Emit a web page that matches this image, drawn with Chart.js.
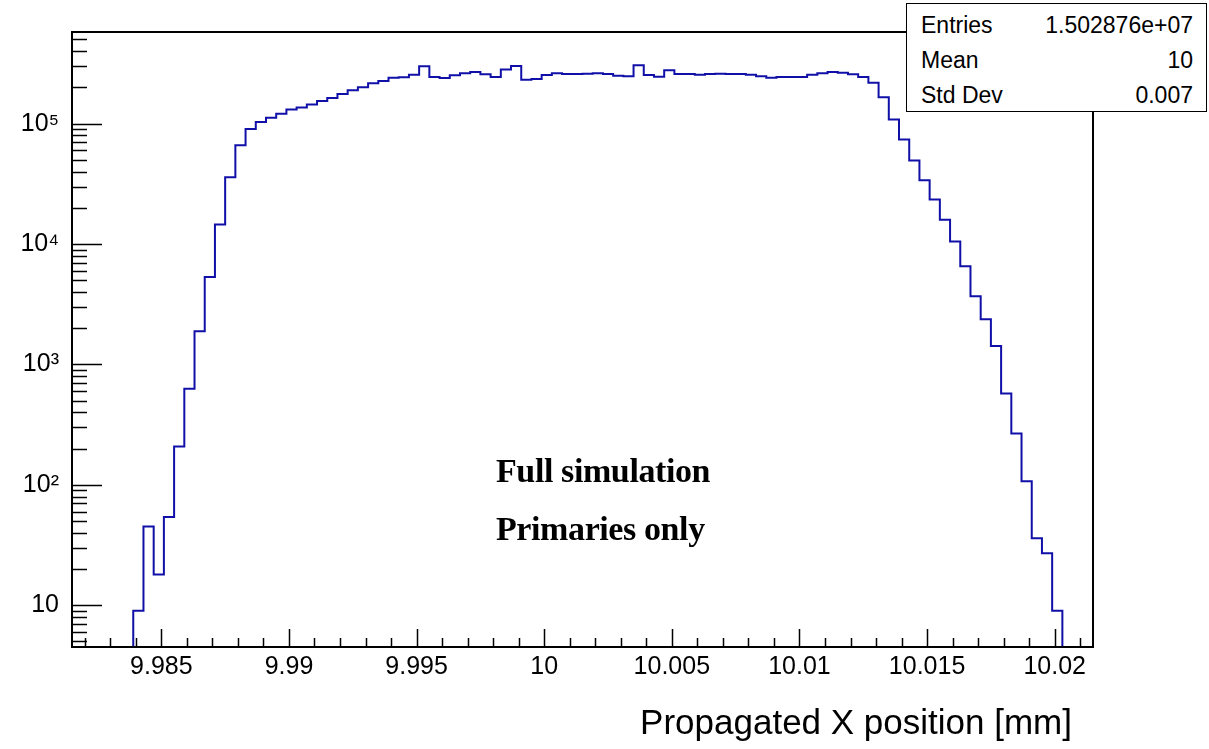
<!DOCTYPE html>
<html>
<head>
<meta charset="utf-8">
<script src="https://cdn.jsdelivr.net/npm/chart.js@4.4.1/dist/chart.umd.min.js"></script>
<style>
  body { margin: 0; background: #fff; }
  #wrap { position: relative; width: 1209px; height: 749px; overflow: hidden; }
  #plot { position: absolute; left: 0; top: 0; }
  .stats {
    position: absolute; left: 906px; top: 3px; width: 299px; height: 107px;
    border: 1.5px solid #000; background: #fff;
    font: 23px "Liberation Sans", Arial, sans-serif; color: #000;
  }
  .stats .row {
    position: absolute; left: 14px; right: 13px; height: 24px; line-height: 24px;
    display: flex; justify-content: space-between;
  }
  .note {
    position: absolute; left: 496px; white-space: nowrap;
    font: bold 34px/34px "Liberation Serif", "Times New Roman", serif;
    letter-spacing: -0.4px; color: #000;
  }
  .xtitle {
    position: absolute; right: 137px; top: 704px; white-space: nowrap;
    font: 35px/35px "Liberation Sans", Arial, sans-serif; color: #000;
  }
</style>
</head>
<body>
<div id="wrap">
  <canvas id="plot" width="1209" height="749"></canvas>
  <div class="stats">
    <div class="row" style="top:9px"><span>Entries</span><span>1.502876e+07</span></div>
    <div class="row" style="top:44px"><span>Mean</span><span>10</span></div>
    <div class="row" style="top:79px"><span>Std Dev</span><span>0.007</span></div>
  </div>
  <div class="note" style="top:454px">Full simulation</div>
  <div class="note" style="top:512px">Primaries only</div>
  <div class="xtitle">Propagated X position [mm]</div>
</div>
<script>
// histogram binning: 100 bins of 0.0004 mm
const binLow = 9.9815;
const binWidth = 0.0004;

// entries per bin
const counts = [
  0, 0, 0, 0, 0, 0, 9, 45, 18, 54,
  208, 627, 1890, 5320, 14500, 35900, 66100, 90200, 103000, 112000,
  121000, 131000, 136000, 144000, 154000, 163000, 176000, 189000, 201000, 217000,
  226000, 240000, 243000, 255000, 299000, 244000, 239000, 252000, 262000, 268000,
  257000, 244000, 282000, 301000, 232000, 235000, 253000, 262000, 258000, 258000,
  260000, 262000, 258000, 250000, 248000, 306000, 253000, 245000, 277000, 258000,
  258000, 255000, 258000, 260000, 258000, 258000, 255000, 247000, 241000, 244000,
  244000, 244000, 255000, 262000, 268000, 265000, 257000, 244000, 219000, 166000,
  108000, 74000, 49500, 33800, 23400, 15900, 10500, 6530, 3680, 2370,
  1420, 574, 267, 107, 36, 27, 9, 0, 0, 0
];

// axis ranges and labelled ticks
const xMin = 9.9815, xMax = 10.0215;
const yMin = 4.5, yMax = 5.77e5;
const xMajorTicks = [9.985, 9.99, 9.995, 10, 10.005, 10.01, 10.015, 10.02];
const xTickLabels = ['9.985', '9.99', '9.995', '10', '10.005', '10.01', '10.015', '10.02'];
const yMajorTicks = [10, 100, 1000, 10000, 100000];
const yTickLabels = ['10', '10²', '10³', '10⁴', '10⁵'];

// step outline: one point per left bin edge, empty bins sit on the floor
const points = counts.map((c, i) => ({ x: binLow + i * binWidth, y: c > 0 ? c : yMin }));
points.push({ x: binLow + counts.length * binWidth, y: yMin });

const tickFont = { family: '"Liberation Sans", Arial, sans-serif', size: 25 };

function labelFor(majors, labels, v) {
  const i = majors.findIndex(m => Math.abs(m - v) < m * 1e-9);
  return i < 0 ? '' : labels[i];
}

// frame plus ROOT-style ticks pointing into the pad
const frameTicks = {
  id: 'frameTicks',
  afterDraw(chart) {
    const { ctx, chartArea: a, scales: { x, y } } = chart;
    ctx.save();
    ctx.strokeStyle = '#000';
    ctx.lineWidth = 1.5;
    ctx.beginPath();
    x.ticks.forEach(t => {
      const px = Math.round(x.getPixelForValue(t.value)) + 0.5;
      const major = Math.abs(t.value / 0.005 - Math.round(t.value / 0.005)) < 1e-6;
      ctx.moveTo(px, a.bottom);
      ctx.lineTo(px, a.bottom - (major ? 18 : 9));
    });
    y.ticks.forEach(t => {
      const py = Math.round(y.getPixelForValue(t.value)) + 0.5;
      const lg = Math.log10(t.value);
      const major = Math.abs(lg - Math.round(lg)) < 1e-9;
      ctx.moveTo(a.left, py);
      ctx.lineTo(a.left + (major ? 30 : 15), py);
    });
    ctx.stroke();
    ctx.lineWidth = 2;
    ctx.strokeRect(a.left, a.top, a.width, a.height);
    ctx.restore();
  }
};

new Chart(document.getElementById('plot'), {
  type: 'line',
  data: {
    datasets: [{
      data: points,
      stepped: true,
      borderColor: '#1010a8',
      borderWidth: 2,
      pointRadius: 0,
      fill: false
    }]
  },
  options: {
    responsive: false,
    animation: false,
    events: [],
    layout: { padding: { top: 32, right: 116, left: 0, bottom: 0 } },
    plugins: { legend: { display: false }, tooltip: { enabled: false } },
    scales: {
      x: {
        type: 'linear',
        min: xMin,
        max: xMax,
        afterFit: s => { s.height = 102; },
        afterBuildTicks: s => {
          const ticks = [];
          for (let k = 9982; k <= 10021; k++) ticks.push({ value: k / 1000 });
          s.ticks = ticks;
        },
        grid: { display: false, drawTicks: false },
        border: { display: false },
        ticks: {
          autoSkip: false,
          maxRotation: 0,
          padding: 5,
          color: '#000',
          font: tickFont,
          callback: v => labelFor(xMajorTicks, xTickLabels, v)
        }
      },
      y: {
        type: 'logarithmic',
        min: yMin,
        max: yMax,
        afterFit: s => { s.width = 72; },
        afterBuildTicks: s => {
          const ticks = [];
          for (let d = 0; d <= 5; d++) {
            for (let m = 1; m <= 9; m++) {
              const v = m * Math.pow(10, d);
              if (v >= yMin && v <= yMax) ticks.push({ value: v });
            }
          }
          s.ticks = ticks;
        },
        grid: { display: false, drawTicks: false },
        border: { display: false },
        ticks: {
          autoSkip: false,
          padding: 13,
          color: '#000',
          font: tickFont,
          callback: v => labelFor(yMajorTicks, yTickLabels, v)
        }
      }
    }
  },
  plugins: [frameTicks]
});
</script>
</body>
</html>
